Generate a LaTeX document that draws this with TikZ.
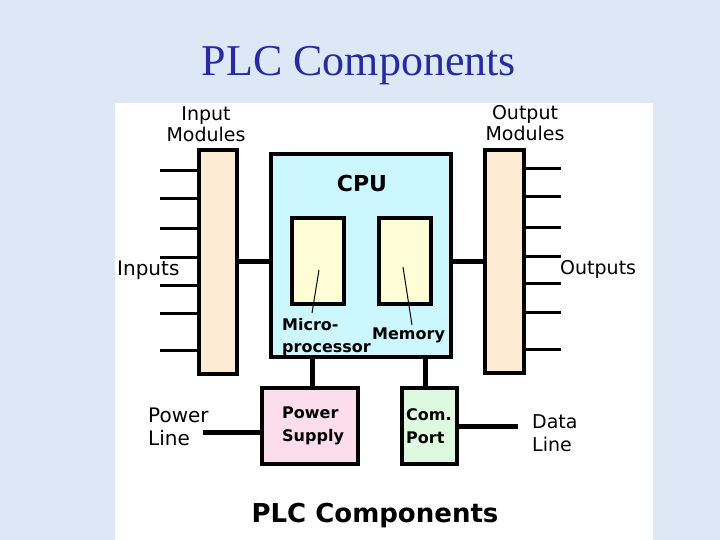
\documentclass[tikz,border=0pt]{standalone}
\usepackage{fontspec}
\setmainfont{DejaVu Sans}
\newfontfamily\titlefont{Liberation Serif}
\definecolor{bgblue}{HTML}{DCE8F6}
\definecolor{titleblue}{HTML}{2A2AA0}
\definecolor{modfill}{HTML}{FDEBD3}
\definecolor{cpufill}{HTML}{CCF7FF}
\definecolor{memfill}{HTML}{FFFCD6}
\definecolor{psfill}{HTML}{FCDDEB}
\definecolor{comfill}{HTML}{DDF9E0}
\begin{document}
\begin{tikzpicture}[x=1pt,y=-1pt,
  box/.style={draw=black,line width=3.5pt,inner sep=0pt},
  ioline/.style={line width=3pt},
  conn/.style={line width=5pt},
  pointer/.style={line width=1pt},
  lbl/.style={font=\fontsize{19}{23}\selectfont,inner sep=0pt,align=left},
  slbl/.style={font=\fontsize{16}{23}\selectfont\bfseries,inner sep=0pt,align=left}]
\useasboundingbox (0,0) rectangle (720,540);
\fill[bgblue] (0,0) rectangle (720,540);
\fill[white] (115,103) rectangle (653,540);
\node[font=\fontsize{44}{48}\selectfont\titlefont,text=titleblue] (title) at (359,66) {PLC Components};
% boxes
\node[box,fill=modfill,minimum width=38pt,minimum height=224pt] (in) at (218,262) {};
\node[box,fill=modfill,minimum width=39pt,minimum height=223pt] (out) at (504.5,261.5) {};
\node[box,fill=cpufill,minimum width=180pt,minimum height=203pt] (cpu) at (361,255.5) {};
\node[box,fill=memfill,minimum width=52pt,minimum height=86pt] (mp) at (318,261) {};
\node[box,fill=memfill,minimum width=52pt,minimum height=86pt] (mem) at (405,261) {};
\node[box,fill=psfill,minimum width=96pt,minimum height=76pt] (ps) at (310,426) {};
\node[box,fill=comfill,minimum width=55pt,minimum height=76pt] (com) at (429.5,426) {};
% input / output lines
\foreach \y [count=\i] in {171,199,229,257,285,313,350}{
  \coordinate (i\i) at (160,\y);
  \draw[ioline] (i\i) -- (i\i -| in.west);
}
\foreach \y [count=\i] in {169,197,228,256,283,312,349}{
  \coordinate (o\i) at (561,\y);
  \draw[ioline] (o\i -| out.east) -- (o\i);
}
% connections
\coordinate (bus) at (0,261);
\draw[conn] (bus -| in.east) -- (bus -| cpu.west);
\draw[conn] (bus -| cpu.east) -- (bus -| out.west);
\draw[conn] ([xshift=2pt]ps.north) -- ([xshift=2pt]ps.north |- cpu.south);
\draw[conn] ([xshift=-4.5pt]com.north) -- ([xshift=-4.5pt]com.north |- cpu.south);
\coordinate (pl) at (203,432);
\draw[conn] (pl) -- (pl -| ps.west);
\coordinate (dl) at (518,426);
\draw[conn] (dl -| com.east) -- (dl);
% pointers
\coordinate (mpp) at (312,313);
\coordinate (memp) at (412,325);
\draw[pointer] (319,270) -- (mpp);
\draw[pointer] (403,267) -- (memp);
% labels
\node[lbl,align=center] (inlbl) at (206,124) {Input\\[-2pt]Modules};
\node[lbl,align=center] (outlbl) at (525,123) {Output\\[-2pt]Modules};
\node[lbl,anchor=west,font=\fontsize{20}{23}\selectfont] (inputs) at (117,270) {Inputs};
\node[lbl,anchor=west] (outputs) at (560,269) {Outputs};
\node[font=\fontsize{22}{24}\selectfont\bfseries,inner sep=0pt] (cpulbl) at (362,183) {CPU};
\node[slbl,anchor=west,font=\fontsize{16}{22}\selectfont\bfseries] (mplbl) at (282,337) {Micro-\\processor};
\node[slbl,anchor=west] (memlbl) at (372,335) {Memory};
\node[slbl,anchor=west] (pslbl) at (282,426) {Power\\Supply};
\node[slbl,anchor=west] (comlbl) at (406,426) {Com.\\Port};
\node[lbl,anchor=west,font=\fontsize{20}{23}\selectfont] (pllbl) at (148,427) {Power\\Line};
\node[lbl,anchor=west] (dllbl) at (532,433) {Data\\Line};
\node[font=\fontsize{26}{28}\selectfont\bfseries,inner sep=0pt] (caption) at (375,516) {PLC Components};
\end{tikzpicture}
\end{document}
